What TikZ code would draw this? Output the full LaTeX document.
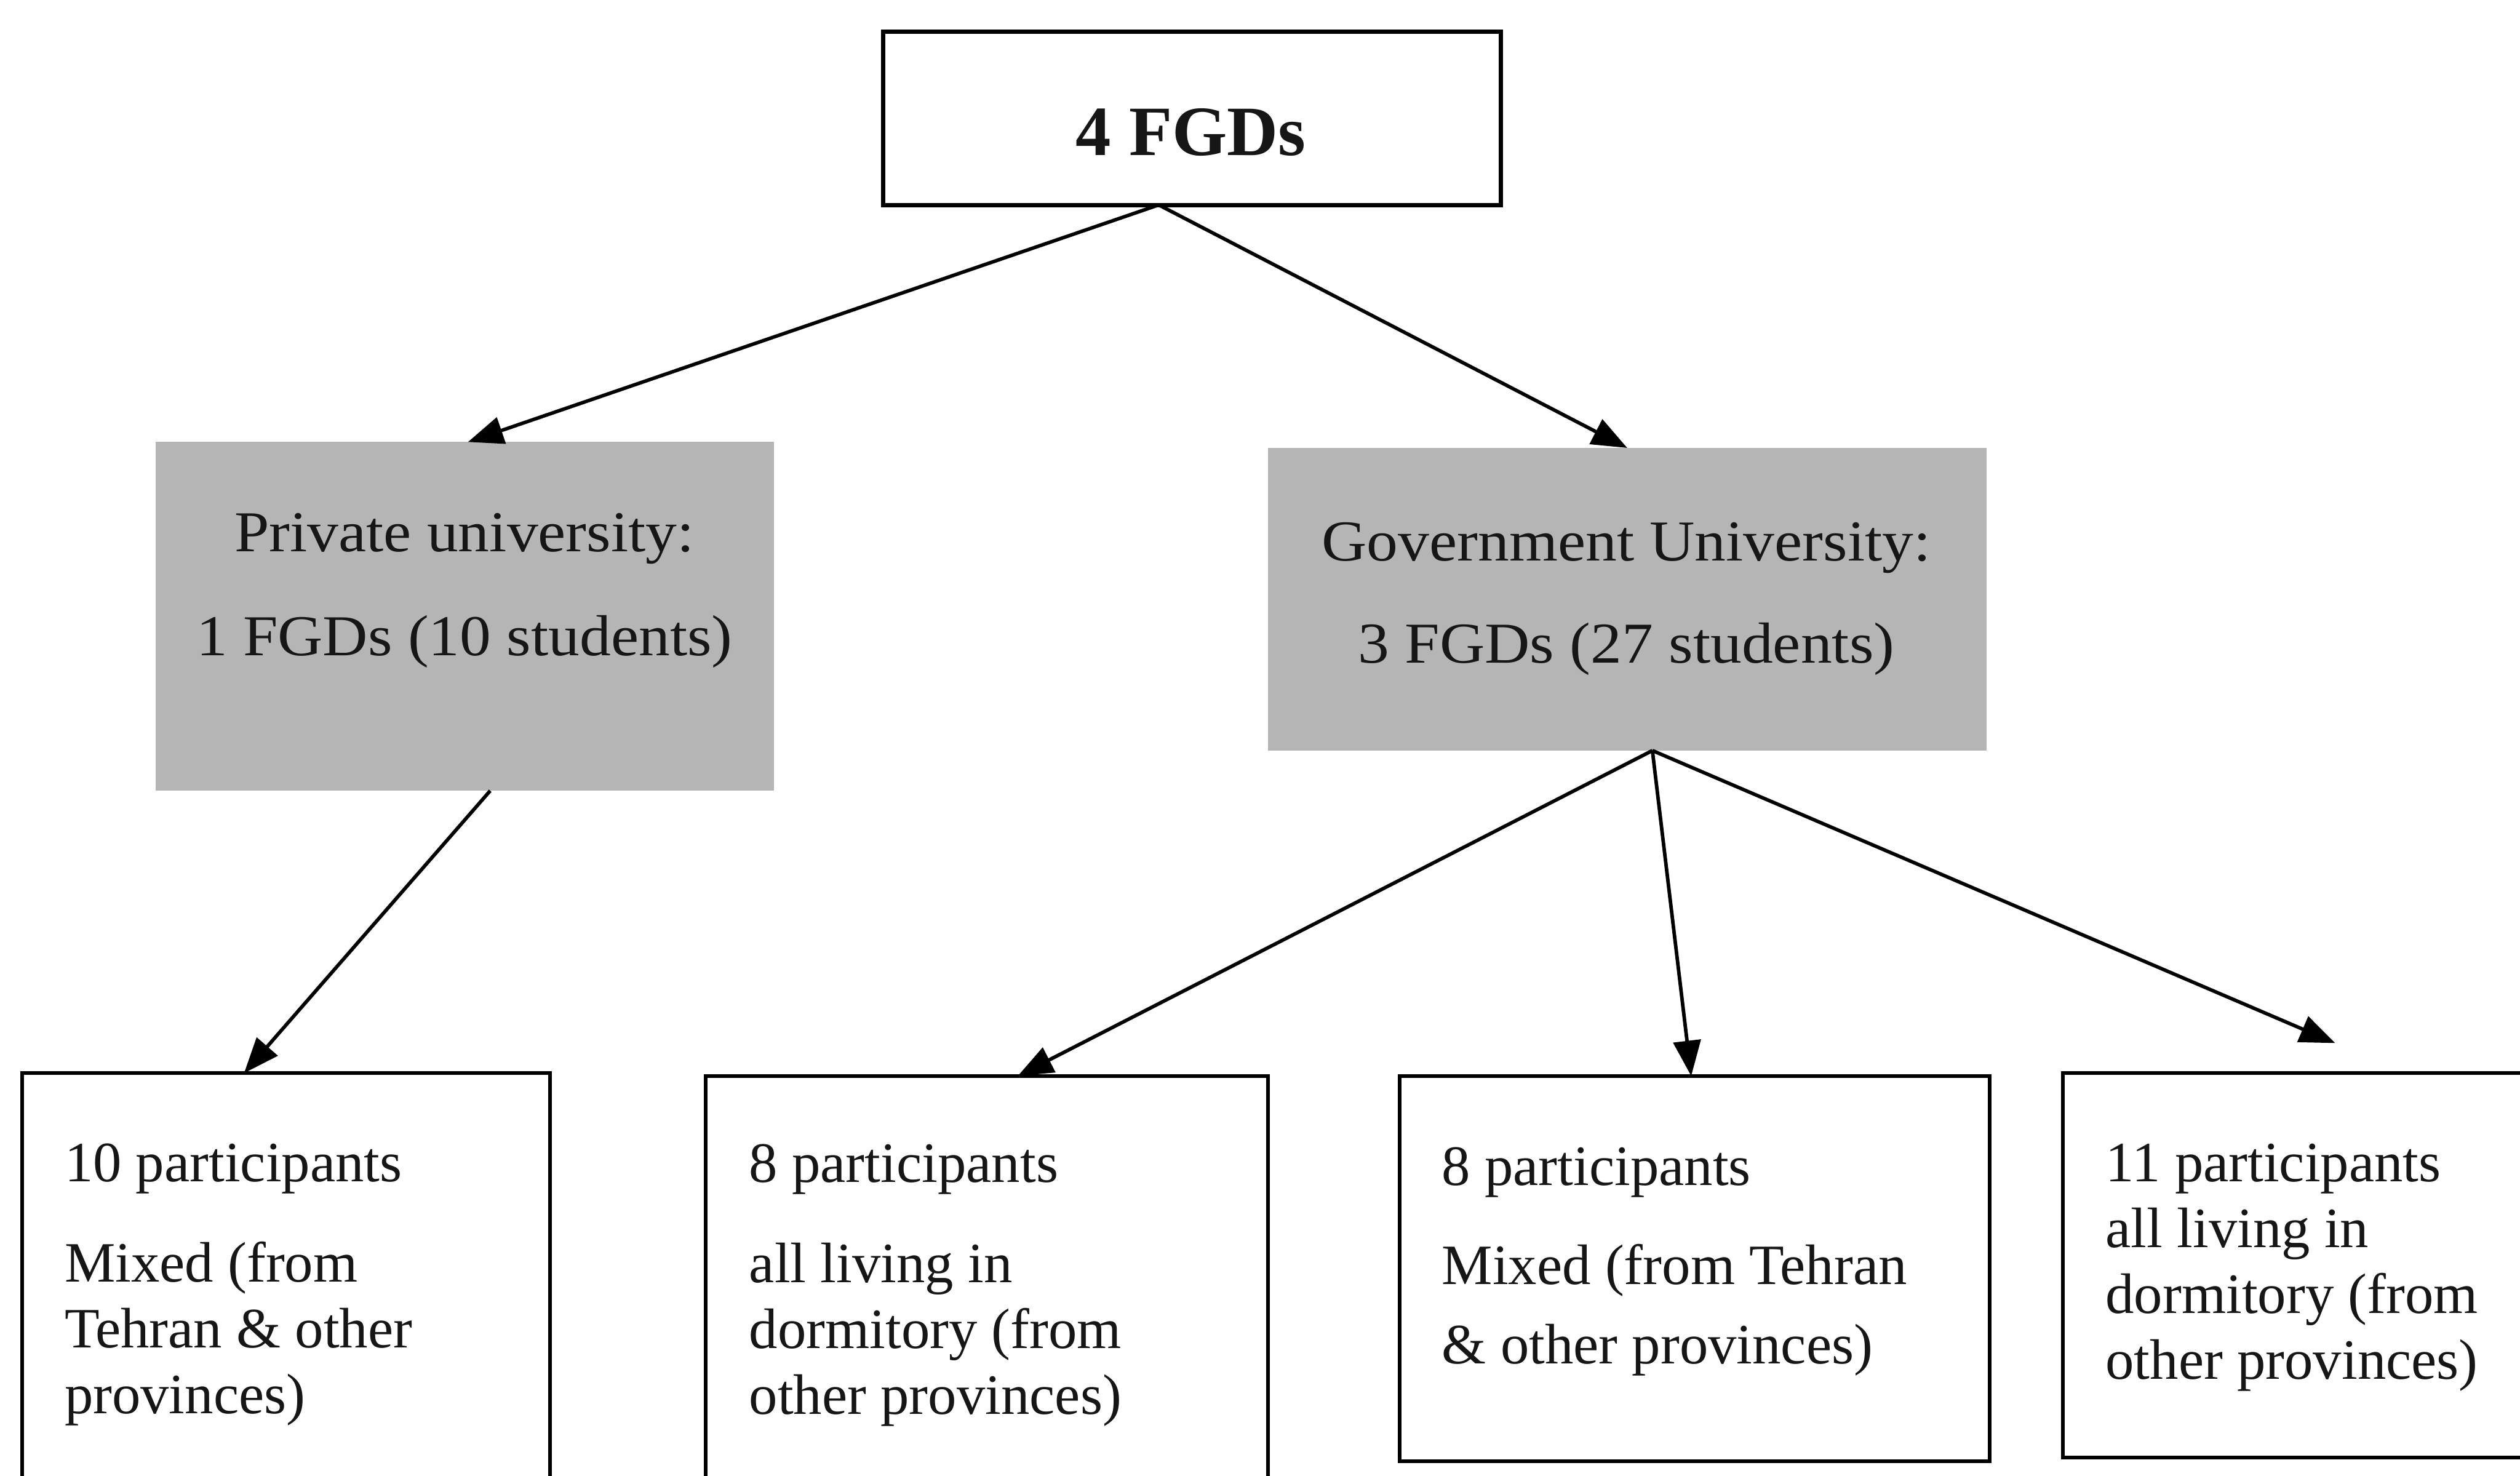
\documentclass[tikz,border=0pt]{standalone}
\usepackage{fontspec}
\setmainfont{Liberation Serif}
\newfontfamily\headfont[FakeStretch=1.08]{Liberation Serif}
\usetikzlibrary{arrows.meta,calc}
\definecolor{shade}{RGB}{181,181,181}
\definecolor{ink}{RGB}{22,22,22}

\begin{document}
\begin{tikzpicture}[x=1pt,y=-1pt,
  frame/.style={draw=black, line width=2.3pt, fill=white, rectangle,
    inner sep=0pt, outer sep=0pt},
  graybox/.style={fill=shade, rectangle, inner sep=0pt, outer sep=0pt},
  toptxt/.style={inner sep=0pt, text=ink, font=\fontsize{44}{50}\selectfont\bfseries},
  headtxt/.style={inner sep=0pt, text=ink, align=center, anchor=base,
    font=\headfont\fontsize{36}{41}\selectfont},
  bodytxt/.style={inner sep=0pt, text=ink, align=left, anchor=base west,
    font=\fontsize{35.5}{41}\selectfont},
  arr/.style={draw=black, line width=2.2pt,
    -{Triangle[length=22pt,width=17pt]}}]

\useasboundingbox (0,0) rectangle (1568,918);
\clip (0,0) rectangle (1568,918);

% boxes
\node[frame, line width=2.7pt, minimum width=384.5pt, minimum height=107.7pt]
  (top) at (741.75,73.65) {};
\node[graybox, minimum width=384.5pt, minimum height=217pt]
  (priv) at (289.25,383.5) {};
\node[graybox, minimum width=447pt, minimum height=188.3pt]
  (gov) at (1012.5,372.85) {};
\node[frame, minimum width=328.5pt, minimum height=292.3pt]
  (b1) at (178.15,813.85) {};
\node[frame, minimum width=350pt, minimum height=290.5pt]
  (b2) at (614,814.75) {};
\node[frame, minimum width=367pt, minimum height=239.5pt]
  (b3) at (1054.5,789.25) {};
\node[frame, minimum width=356.5pt, minimum height=239.3pt]
  (b4) at (1461.75,787.35) {};

% labels (multi-line labels sit on the baseline of their last line)
\node[toptxt, anchor=base] (toplbl) at (741,96.7) {4 FGDs};
\node[headtxt] (privlbl) at (289,408)
  {Private university:\\[24pt]1 FGDs (10 students)};
\node[headtxt] (govlbl) at (1012,412.5)
  {Government University:\\[22.5pt]3 FGDs (27 students)};

\node[bodytxt] (b1lbl) at (40,879.5)
  {10 participants\\[21.3pt]Mixed (from\\Tehran \& other\\provinces)};
\node[bodytxt] (b2lbl) at (466,880)
  {8 participants\\[21.5pt]all living in\\dormitory (from\\other provinces)};
\node[bodytxt] (b3lbl) at (897,848.5)
  {8 participants\\[20.6pt]Mixed (from Tehran\\[8.5pt]\& other provinces)};
\node[bodytxt] (b4lbl) at (1310,858)
  {11 participants\\all living in\\dormitory (from\\other provinces)};

% connector end points on the box edges
\coordinate (topout)  at ($(top.south west)!0.446!(top.south east)$);
\coordinate (privin)  at ($(priv.north west)!0.505!(priv.north east)$);
\coordinate (privout) at ($(priv.south west)!0.541!(priv.south east)$);
\coordinate (govout)  at ($(gov.south west)!0.535!(gov.south east)$);
\coordinate (b1in)    at ($(b1.north west)!0.42!(b1.north east)$);
\coordinate (b2in)    at ($(b2.north west)!0.555!(b2.north east)$);
\coordinate (b3in)    at ($(b3.north west)!0.494!(b3.north east)$);
\coordinate (b4in)    at ($(b4.north west)+(169.5,-18.7)$);

% connectors
\draw[arr] (topout) -- (privin);
\draw[arr] (topout) -- (gov.north);
\draw[arr] (privout) -- (b1in);
\draw[arr] (govout) -- (b2in);
\draw[arr] (govout) -- (b3in);
\draw[arr] (govout) -- (b4in);
\end{tikzpicture}
\end{document}
